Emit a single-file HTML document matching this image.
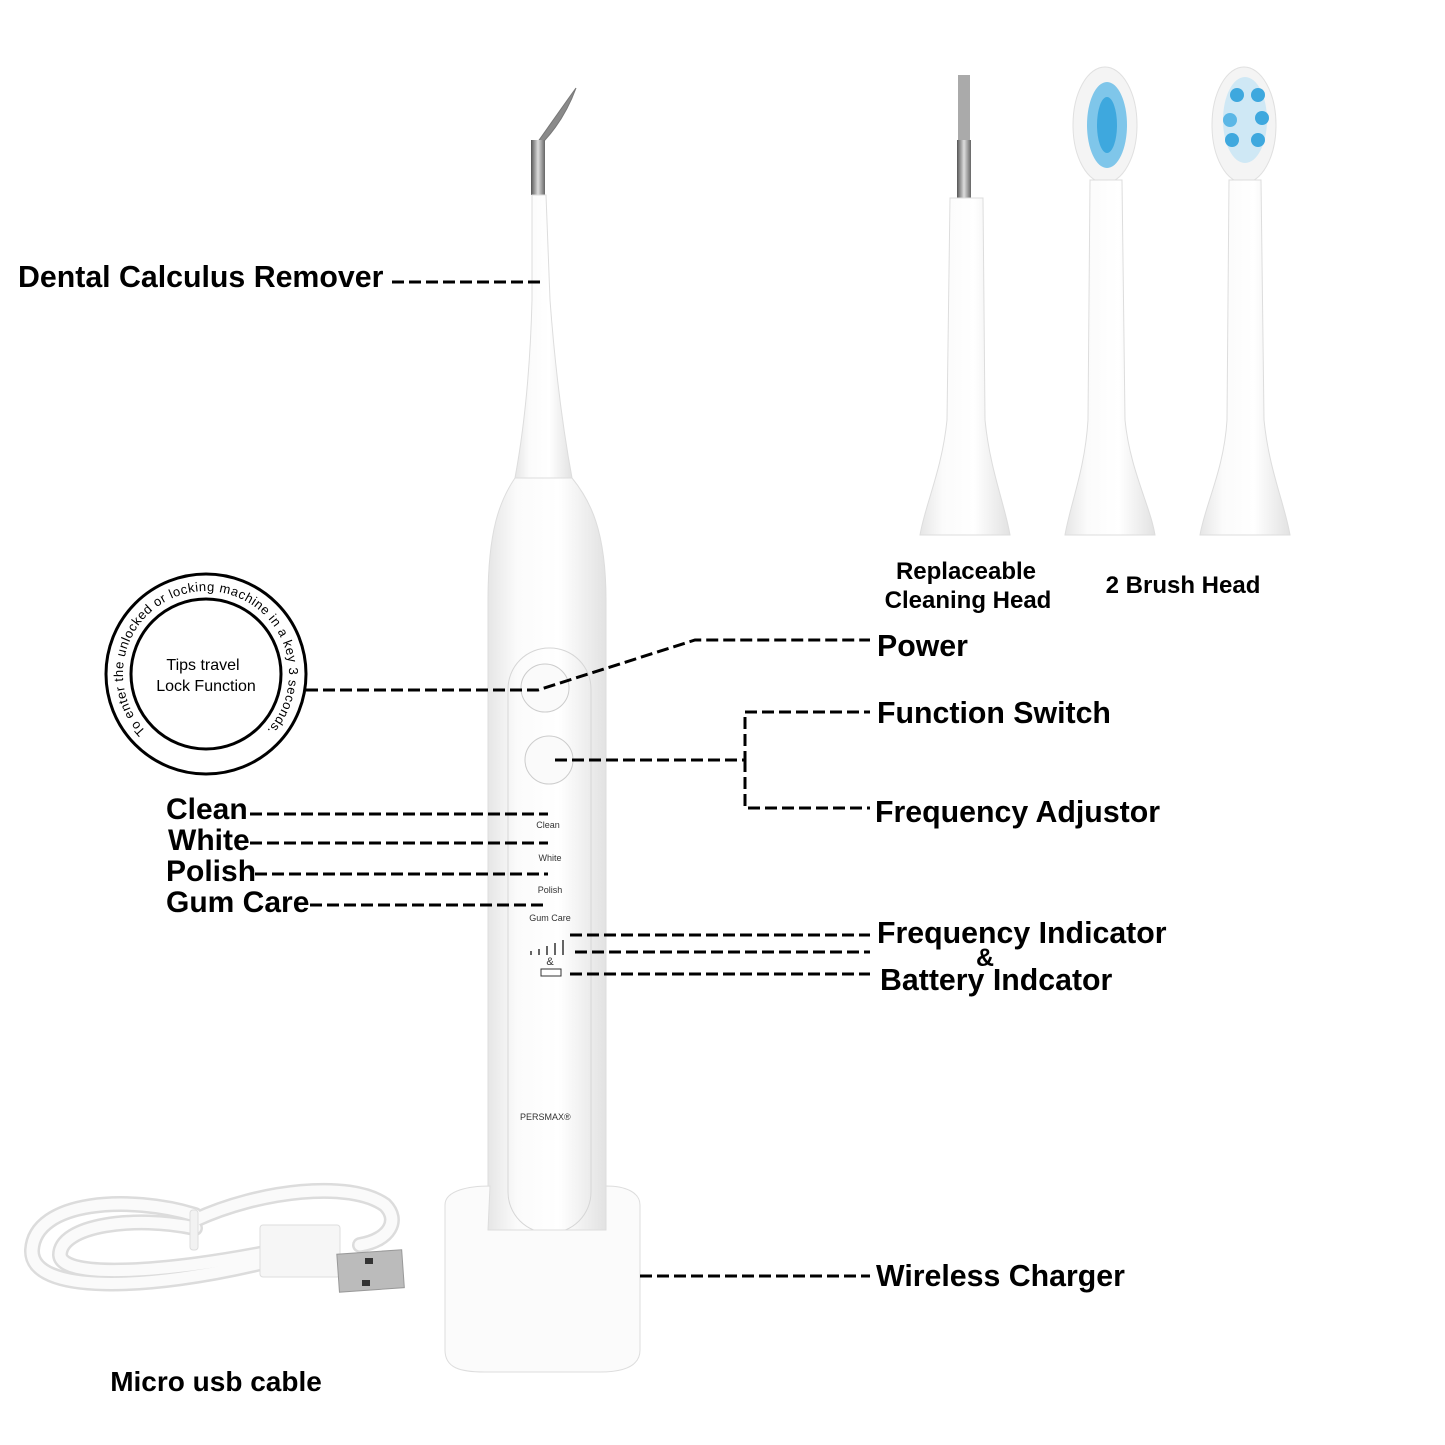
<!DOCTYPE html>
<html><head><meta charset="utf-8"><style>
html,body{margin:0;padding:0;background:#fff}
svg{display:block}
text{font-family:"Liberation Sans",Arial,sans-serif}
.b{font-weight:bold;fill:#000}
.d{stroke:#000;stroke-width:3;stroke-dasharray:12 5;fill:none}
</style></head><body>
<svg width="1445" height="1445" viewBox="0 0 1445 1445" xmlns="http://www.w3.org/2000/svg">
<defs>
<linearGradient id="body" x1="0" x2="1"><stop offset="0" stop-color="#e6e6e6"/><stop offset="0.25" stop-color="#fbfbfb"/><stop offset="0.6" stop-color="#fff"/><stop offset="1" stop-color="#e2e2e2"/></linearGradient>
<linearGradient id="met" x1="0" x2="1"><stop offset="0" stop-color="#555"/><stop offset="0.5" stop-color="#ddd"/><stop offset="1" stop-color="#666"/></linearGradient>
<path id="circ" d="M147.3,732.7 A83,83 0 1 1 264.7,732.7"/>
</defs>

<!-- main brush -->
<path d="M576,88 C568,110 556,128 545,140 L532,150 C545,132 560,110 576,88Z" fill="#8a8a8a" stroke="#777"/>
<rect x="531" y="140" width="14" height="55" fill="url(#met)"/>
<path d="M532,195 L546,195 L550,300 C556,380 565,440 572,478 L515,478 C522,440 530,380 532,300Z" fill="url(#body)" stroke="#ddd"/>
<path d="M515,478 L572,478 C590,500 606,530 606,600 L606,1230 L488,1230 L488,600 C488,530 500,500 515,478Z" fill="url(#body)" stroke="#ddd"/>
<rect x="508" y="648" width="83" height="585" rx="41" fill="none" stroke="#d6d6d6"/>
<circle cx="545" cy="688" r="24" fill="#fafafa" stroke="#ccc"/>
<circle cx="549" cy="760" r="24" fill="#fafafa" stroke="#ccc"/>
<text x="548" y="828" font-size="9" text-anchor="middle" fill="#333">Clean</text>
<text x="550" y="861" font-size="9" text-anchor="middle" fill="#333">White</text>
<text x="550" y="893" font-size="9" text-anchor="middle" fill="#333">Polish</text>
<text x="550" y="921" font-size="9" text-anchor="middle" fill="#333">Gum Care</text>
<path d="M531,955v-4M539,955v-6M547,955v-9M555,955v-12M563,955v-15" stroke="#333" stroke-width="1.5"/>
<text x="550" y="965" font-size="11" text-anchor="middle" fill="#333">&amp;</text>
<rect x="541" y="969" width="20" height="7" fill="none" stroke="#333"/>
<text x="520" y="1120" font-size="9" fill="#333" font-family="Liberation Serif">PERSMAX®</text>
<!-- charger -->
<path d="M445,1205 C445,1190 470,1186 490,1186 L488,1230 L606,1230 L606,1186 C625,1186 640,1192 640,1205 L640,1350 C640,1368 620,1372 600,1372 L485,1372 C460,1372 445,1368 445,1350Z" fill="#fbfbfb" stroke="#ddd"/>

<!-- cleaning head -->
<rect x="958" y="75" width="12" height="70" fill="#aaa"/>
<rect x="957" y="140" width="14" height="58" fill="url(#met)"/>
<path d="M950,198 L983,198 L985,420 C990,470 1005,505 1010,535 L920,535 C925,505 942,470 947,420Z" fill="url(#body)" stroke="#ddd"/>
<!-- brush heads -->
<g>
<ellipse cx="1105" cy="125" rx="32" ry="58" fill="#f4f4f4" stroke="#e0e0e0"/>
<ellipse cx="1107" cy="125" rx="20" ry="43" fill="#7fc6ea"/>
<ellipse cx="1107" cy="125" rx="10" ry="28" fill="#3ea8de"/>
<path d="M1090,180 L1122,180 L1125,420 C1130,470 1150,505 1155,535 L1065,535 C1070,505 1085,470 1088,420Z" fill="url(#body)" stroke="#ddd"/>
</g>
<g>
<ellipse cx="1244" cy="125" rx="32" ry="58" fill="#f4f4f4" stroke="#e0e0e0"/>
<ellipse cx="1245" cy="120" rx="22" ry="43" fill="#cfe8f5"/>
<circle cx="1237" cy="95" r="7" fill="#3ea8de"/><circle cx="1258" cy="95" r="7" fill="#3ea8de"/>
<circle cx="1230" cy="120" r="7" fill="#5bb7e6"/><circle cx="1262" cy="118" r="7" fill="#3ea8de"/>
<circle cx="1232" cy="140" r="7" fill="#3ea8de"/><circle cx="1258" cy="140" r="7" fill="#3ea8de"/>
<path d="M1229,180 L1261,180 L1264,420 C1269,470 1285,505 1290,535 L1200,535 C1205,505 1224,470 1227,420Z" fill="url(#body)" stroke="#ddd"/>
</g>

<!-- cable -->
<g fill="none" stroke="#dcdcdc" stroke-width="16" stroke-linecap="round">
<path d="M195,1215 C130,1195 35,1200 32,1250 C30,1295 150,1290 265,1262"/>
<path d="M195,1228 C135,1215 60,1225 60,1255 C62,1280 170,1272 270,1252"/>
<path d="M195,1220 C260,1190 350,1180 385,1205 C400,1220 390,1240 360,1245"/>
</g>
<g fill="none" stroke="#fafafa" stroke-width="11" stroke-linecap="round">
<path d="M195,1215 C130,1195 35,1200 32,1250 C30,1295 150,1290 265,1262"/>
<path d="M195,1228 C135,1215 60,1225 60,1255 C62,1280 170,1272 270,1252"/>
<path d="M195,1220 C260,1190 350,1180 385,1205 C400,1220 390,1240 360,1245"/>
</g>
<rect x="190" y="1210" width="8" height="40" rx="3" fill="#f2f2f2" stroke="#ddd"/>
<rect x="260" y="1225" width="80" height="52" rx="3" fill="#f6f6f6" stroke="#ddd"/>
<rect x="338" y="1252" width="65" height="38" fill="#bbb" stroke="#999" transform="rotate(-4 370 1270)"/>
<rect x="365" y="1258" width="8" height="6" fill="#333"/><rect x="362" y="1280" width="8" height="6" fill="#333"/>

<!-- tips circle -->
<circle cx="206" cy="674" r="100" fill="#fff" stroke="#000" stroke-width="3"/>
<circle cx="206" cy="674" r="75" fill="#fff" stroke="#000" stroke-width="3"/>
<text font-size="13" fill="#000"><textPath href="#circ" startOffset="2" textLength="385" lengthAdjust="spacing">To enter the unlocked or locking machine in a key 3 seconds.</textPath></text>
<text x="203" y="670" font-size="16" text-anchor="middle">Tips travel</text>
<text x="206" y="691" font-size="16" text-anchor="middle">Lock Function</text>

<!-- dashed lines -->
<path class="d" d="M392,282H540"/>
<path class="d" d="M306,690H538L695,640H870"/>
<path class="d" d="M555,760H745V712H870M745,760V808H870"/>
<path class="d" d="M250,814H548M250,843H548M255,874H548M310,905H548"/>
<path class="d" d="M570,935H870M575,952H870M570,974H870"/>
<path class="d" d="M640,1276H870"/>

<!-- labels -->
<text class="b" x="18" y="287" font-size="30.3">Dental Calculus Remover</text>
<text class="b" x="966" y="579" font-size="24" text-anchor="middle">Replaceable</text>
<text class="b" x="968" y="608" font-size="24" text-anchor="middle">Cleaning Head</text>
<text class="b" x="1183" y="593" font-size="24" text-anchor="middle">2 Brush Head</text>
<text class="b" x="877" y="656" font-size="30.3">Power</text>
<text class="b" x="877" y="723" font-size="30.3">Function Switch</text>
<text class="b" x="875" y="822" font-size="30.3">Frequency Adjustor</text>
<text class="b" x="166" y="819" font-size="30">Clean</text>
<text class="b" x="168" y="850" font-size="30">White</text>
<text class="b" x="166" y="881" font-size="30">Polish</text>
<text class="b" x="166" y="912" font-size="30">Gum Care</text>
<text class="b" x="877" y="943" font-size="30.3">Frequency Indicator</text>
<text class="b" x="985" y="966" font-size="25" text-anchor="middle">&amp;</text>
<text class="b" x="880" y="990" font-size="30.3">Battery Indcator</text>
<text class="b" x="876" y="1286" font-size="30.3">Wireless Charger</text>
<text class="b" x="216" y="1391" font-size="28" text-anchor="middle">Micro usb cable</text>
</svg>
</body></html>
